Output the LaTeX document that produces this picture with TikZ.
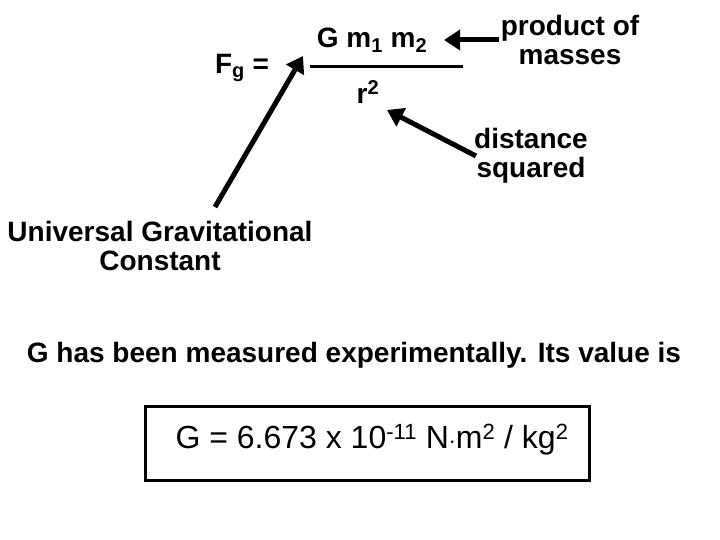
\documentclass[tikz,border=0pt]{standalone}
\usepackage{fontspec}
\setmainfont{Liberation Sans}
\usetikzlibrary{arrows.meta}
\newcommand{\sz}{\fontsize{20}{22}\selectfont}
\begin{document}
\begin{tikzpicture}[x=1pt,y=-1pt,
  lbl/.style={font=\fontsize{28}{29}\selectfont\bfseries,align=center,inner sep=0pt},
  arr/.style={line width=5pt,-{Triangle[length=16pt,width=20pt]}}]
\useasboundingbox (0,0) rectangle (720,540);
\node[lbl] (fg) at (242,68) {F\textsubscript{\sz g} =};
\node[lbl] (num) at (372,40) {G m\textsubscript{\sz 1} m\textsubscript{\sz 2}};
\coordinate (la) at (310,67); \coordinate (lb) at (463,67);
\draw[line width=3pt] (la) -- (lb);
\node[lbl] (den) at (368,92) {r\textsuperscript{\sz 2}};
\node[lbl] (pm) at (570,40) {product of\\masses};
\node[lbl] (ds) at (531,156) {distance\\squared};
\node[lbl] (ugc) at (160,246) {Universal Gravitational\\Constant};
\coordinate (a1) at (215,207); \coordinate (a1e) at (303,56);
\draw[arr] (a1) -- (a1e);
\coordinate (a2) at (499,40); \coordinate (a2e) at (444,40);
\draw[arr] (a2) -- (a2e);
\coordinate (a3) at (476,156); \coordinate (a3e) at (387,110);
\draw[arr] (a3) -- (a3e);
\node[lbl] (meas) at (354,355) {G has been measured experimentally. Its value is};
\node[draw,line width=3pt,minimum width=444pt,minimum height=74pt,inner sep=0pt] (box) at (367,443) {};
\node[font=\fontsize{32}{34}\selectfont,inner sep=0pt] (val) at (372,440) {G = 6.673 x 10\textsuperscript{\fontsize{22}{24}\selectfont -11} N$\cdot$m\textsuperscript{\fontsize{22}{24}\selectfont 2} / kg\textsuperscript{\fontsize{22}{24}\selectfont 2}};
\end{tikzpicture}
\end{document}
